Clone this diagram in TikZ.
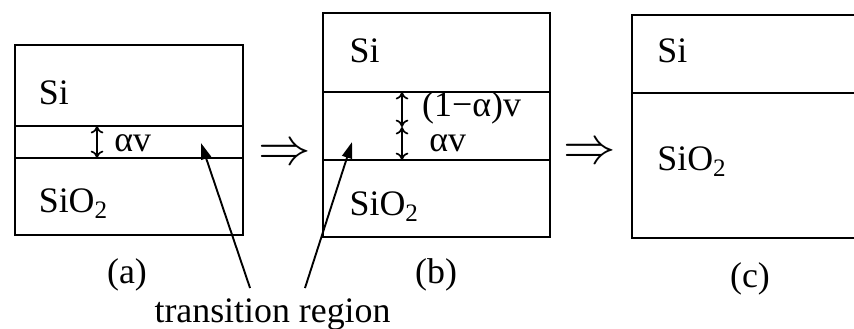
\documentclass[tikz,border=0pt]{standalone}
\usepackage{fontspec}
\setmainfont{Liberation Serif}
\usetikzlibrary{arrows.meta}
\tikzset{
  layer/.style={line width=0.9pt},
  dimarrow/.style={{To[length=3.5pt,width=6pt]}-{To[length=3.5pt,width=6pt]}, line width=0.8pt},
  pointer/.style={-{Triangle[length=0.27cm,width=0.17cm]}, line width=0.9pt},
  lbl/.style={anchor=base west, inner sep=0pt},
  step arrow/.style={inner sep=0pt, font=\fontsize{23}{23}\selectfont}
}
\begin{document}
\begin{tikzpicture}[font=\fontsize{17}{20}\selectfont]
\useasboundingbox (0,0) rectangle (14.233,5.467);
% (a)
\draw[layer] (0.25,1.55) rectangle (4.05,4.717);
\draw[layer] (0.25,3.367) -- (4.05,3.367);
\draw[layer] (0.25,2.833) -- (4.05,2.833);
\node[lbl] (siA) at (0.64,3.72) {Si};
\node[lbl] (oxA) at (0.64,1.92) {SiO\textsubscript{2}};
\draw[dimarrow] (1.617,3.367) -- (1.617,2.833);
\node[lbl] (avA) at (1.9,2.94) {αv};
\node[anchor=base] (capA) at (2.117,0.75) {(a)};
\node[step arrow] (goAB) at (4.75,2.88) {$\Rightarrow$};
% (b)
\draw[layer] (5.383,1.517) rectangle (9.167,5.25);
\draw[layer] (5.383,3.933) -- (9.167,3.933);
\draw[layer] (5.383,2.8) -- (9.167,2.8);
\node[lbl] (siB) at (5.82,4.42) {Si};
\node[lbl] (oxB) at (5.82,1.87) {SiO\textsubscript{2}};
\draw[dimarrow] (6.7,3.933) -- (6.7,3.35);
\draw[dimarrow] (6.7,3.35) -- (6.7,2.8);
\node[lbl] (avB1) at (7.03,3.52) {(1−α)v};
\node[lbl] (avB2) at (7.15,2.95) {αv};
\node[anchor=base] (capB) at (7.267,0.75) {(b)};
\node[step arrow] (goBC) at (9.833,2.9) {$\Rightarrow$};
% (c)
\draw[layer] (14.6,1.5) -- (10.533,1.5) -- (10.533,5.217) -- (14.6,5.217);
\draw[layer] (10.533,3.917) -- (14.6,3.917);
\node[lbl] (siC) at (10.95,4.42) {Si};
\node[lbl] (oxC) at (10.95,2.62) {SiO\textsubscript{2}};
\node[anchor=base] (capC) at (12.5,0.68) {(c)};
% transition region
\node[anchor=base, inner sep=0pt] (trans) at (4.542,0.1) {transition region};
\coordinate (tailA) at (4.167,0.667);
\coordinate (tailB) at (5.083,0.667);
\coordinate (tipA) at (3.35,3.083);
\coordinate (tipB) at (5.867,3.1);
\draw[pointer] (tailA) -- (tipA);
\draw[pointer] (tailB) -- (tipB);
\end{tikzpicture}
\end{document}
